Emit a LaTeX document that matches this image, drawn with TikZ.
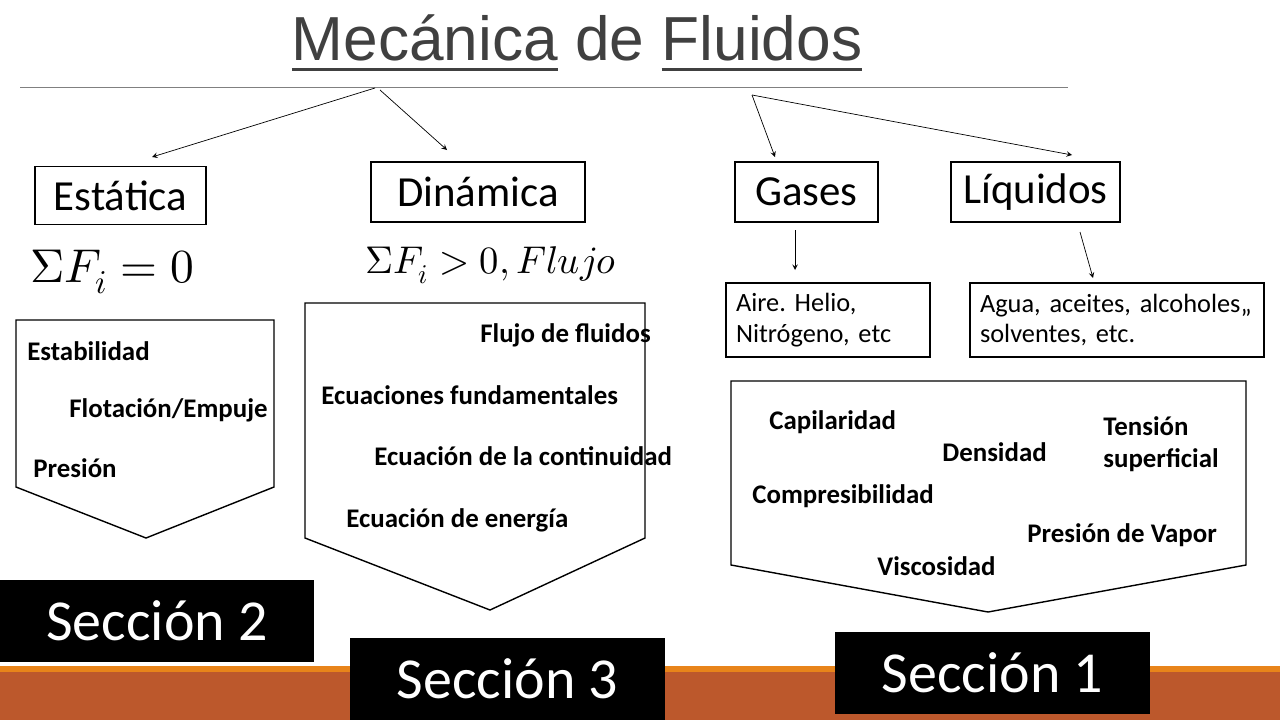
\documentclass[tikz,border=0pt]{standalone}
\usepackage{fontspec}
\usepackage{unicode-math}
\setmainfont{Carlito}
\setmathfont{Latin Modern Math}
\newfontfamily\titlefont{Liberation Sans}
\definecolor{barbrown}{HTML}{BC582C}
\definecolor{barorange}{HTML}{E8841A}
\definecolor{titlegray}{HTML}{404040}
\frenchspacing
\begin{document}
\begin{tikzpicture}[x=0.02cm, y=-0.02cm,
    catbox/.style={draw, thick, minimum height=1.2cm, inner sep=0pt, font=\fontsize{24.4}{28}\selectfont},
    notebox/.style={draw, thick, align=left, inner xsep=0.2cm, inner ysep=0pt, minimum height=1.48cm, font=\fontsize{15}{17.5}\selectfont},
    item/.style={anchor=west, inner sep=0pt, font=\bfseries\fontsize{15.3}{18.5}\selectfont, align=left},
    seccion/.style={fill=black, text=white, inner sep=0pt, minimum width=6.3cm, minimum height=1.64cm, font=\fontsize{33}{36}\selectfont},
    link/.style={-stealth, thin}]

    \useasboundingbox (0,0) rectangle (1280,720);

    %% Bottom bar
    \fill[barorange] (0,666) rectangle (1280,672);
    \fill[barbrown] (0,672) rectangle (1280,720);

    % Title
    \node[font=\titlefont\fontsize{35.4}{40}\selectfont, text=titlegray] (title) at (577,44)
        {\underline{Mecánica} de \underline{Fluidos}};
    \draw[gray] (20,87) -- (1068,87);

    % Categories
    \node[catbox, minimum width=3.42cm, minimum height=1.15cm] (estatica) at (120.5,195.5) {Estática};
    \node[catbox, minimum width=4.28cm] (dinamica) at (478,192) {Dinámica};
    \node[catbox, minimum width=2.86cm] (gases) at (806.5,192) {Gases};
    \node[catbox, minimum width=3.38cm] (liquidos) at (1035.5,192) {Líquidos};

    \coordinate (topA) at (375,88);
    \coordinate (topB) at (380,90);
    \coordinate (topC) at (752,95);
    \draw[link] (topA) -- (152,157);
    \draw[link] (topB) -- (447,150);
    \draw[link] (topC) -- (775,157);
    \draw[link] (topC) -- (1072,155);

    % Examples
    \node[notebox, text width=3.68cm] (aire) at (828,320)
        {Aire. Helio,\\Nitrógeno, etc};
    \node[notebox, text width=5.48cm] (agua) at (1117,320)
        {Agua, aceites, alcoholes,,\\solventes, etc.};
    \draw[link] (795,230) -- (795,270);
    \draw[link] (1080,232) -- (1093,278);

    % Equations
    \node[anchor=west, inner sep=0pt, font=\fontsize{27}{30}\selectfont] (eq0) at (30,272) {$\Sigma F_i = 0$};
    \node[anchor=west, inner sep=0pt, font=\fontsize{22}{24}\selectfont] (eq1) at (365,265) {$\Sigma F_i > 0, Flujo$};

    % Pentagons
    \draw[thick] (16,320) -- (274,320) -- (274,487) -- (146,538) -- (16,487) -- cycle;
    \draw[thick] (305,303) -- (645,303) -- (645,538) -- (490,610) -- (305,538) -- cycle;
    \draw[thick] (731,381) -- (1246,381) -- (1246,565) -- (988,612) -- (731,565) -- cycle;

    \node[item] (estab) at (27,351) {Estabilidad};
    \node[item] (flot) at (69,410) {Flotación/Empuje};
    \node[item] (pres) at (33,468) {Presión};

    \node[item] (flujo) at (480,335) {Flujo de fluidos};
    \node[item] (ecfund) at (321,395) {Ecuaciones fundamentales};
    \node[item] (eccont) at (374,456) {Ecuación de la continuidad};
    \node[item] (ecener) at (346,520) {Ecuación de energía};

    \node[item] (capil) at (769,422) {Capilaridad};
    \node[item] (dens) at (942,452) {Densidad};
    \node[item] (tens) at (1103,444) {Tensión\\superficial};
    \node[item] (compr) at (752,496) {Compresibilidad};
    \node[item] (pvap) at (1027,535) {Presión de Vapor};
    \node[item] (visc) at (877,566) {Viscosidad};

    % Sections
    \node[seccion, minimum width=6.28cm] (sec2) at (157,621) {Sección 2};
    \node[seccion] (sec3) at (507.5,679) {Sección 3};
    \node[seccion] (sec1) at (992.5,673) {Sección 1};

\end{tikzpicture}
\end{document}
